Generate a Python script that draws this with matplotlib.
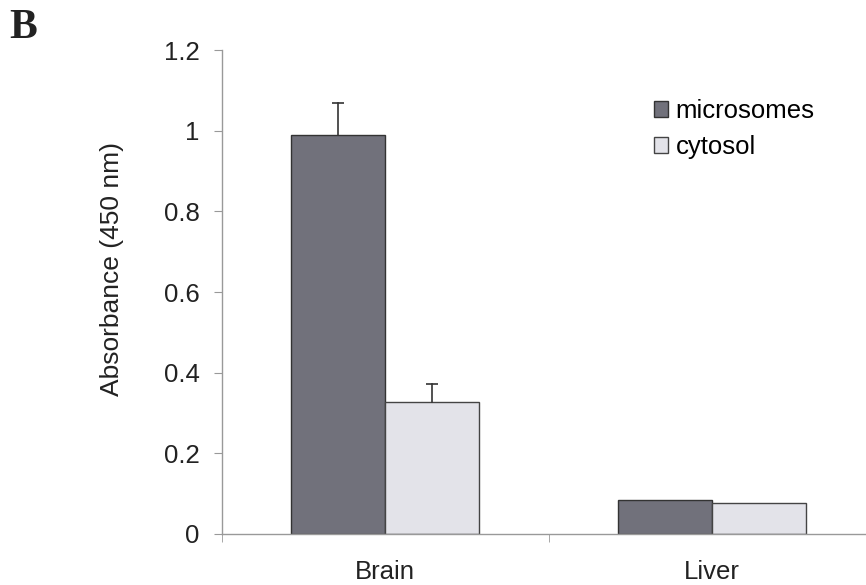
import numpy as np
import matplotlib.pyplot as plt

tissues = ['Brain', 'Liver']
microsomes = [0.99, 0.085]
microsomes_err = [0.08, 0.0]
cytosol = [0.328, 0.077]
cytosol_err = [0.045, 0.0]
yticks = [0, 0.2, 0.4, 0.6, 0.8, 1.0, 1.2]
ytick_labels = ['0', '0.2', '0.4', '0.6', '0.8', '1', '1.2']


def main():
    plt.rcParams['font.family'] = ['Liberation Sans', 'DejaVu Sans']
    fig = plt.figure(figsize=(8.66, 5.85), dpi=100)
    ax = fig.add_axes([0.256, 0.0872, 0.744, 0.827])

    x = np.arange(len(tissues))
    w = 0.287
    ax.bar(x - w / 2, microsomes, w, color='#71717b', edgecolor='#333333',
           linewidth=1.0, label='microsomes')
    ax.bar(x + w / 2, cytosol, w, color='#e3e3e9', edgecolor='#444444',
           linewidth=1.0, label='cytosol')

    # upper error bars only (liver has none visible)
    for xs, vals, errs in [(x - w / 2, microsomes, microsomes_err),
                           (x + w / 2, cytosol, cytosol_err)]:
        for xi, v, e in zip(xs, vals, errs):
            if e > 0:
                ax.plot([xi, xi], [v, v + e], color='#333333', lw=1.2)
                ax.plot([xi], [v + e], marker='_', markersize=9,
                        markeredgewidth=1.2, color='#333333')

    ax.set_xlim(-0.5, 1.47)
    ax.set_ylim(0, 1.2)
    ax.set_yticks(yticks)
    ax.set_yticklabels(ytick_labels, fontsize=18.5, color='#222222')
    ax.set_xticks(x)
    ax.set_xticklabels(tissues, fontsize=18.5, color='#222222')
    ax.set_xticks([-0.5, 0.5], minor=True)
    ax.tick_params(axis='x', which='major', length=0, pad=19)
    ax.tick_params(axis='x', which='minor', length=6, color='#999999', direction='out')
    ax.tick_params(axis='y', length=6, color='#999999', pad=10)

    for s in ['top', 'right']:
        ax.spines[s].set_visible(False)
    for s in ['left', 'bottom']:
        ax.spines[s].set_color('#999999')
        ax.spines[s].set_linewidth(1.0)

    ax.set_ylabel('Absorbance (450 nm)', fontsize=19, color='#222222')
    ax.yaxis.set_label_coords(-0.151, 0.548)

    ax.legend(loc='upper left', bbox_to_anchor=(0.651, 0.925), frameon=False,
              fontsize=18.5, handlelength=0.55, handleheight=0.55,
              handletextpad=0.3, labelspacing=0.45, borderpad=0)

    fig.text(0.011, 0.985, 'B', fontsize=30, fontweight='bold',
             family='Liberation Serif', color='#222222', va='top')

    plt.savefig('out.png', dpi=100)


if __name__ == "__main__":
    main()
